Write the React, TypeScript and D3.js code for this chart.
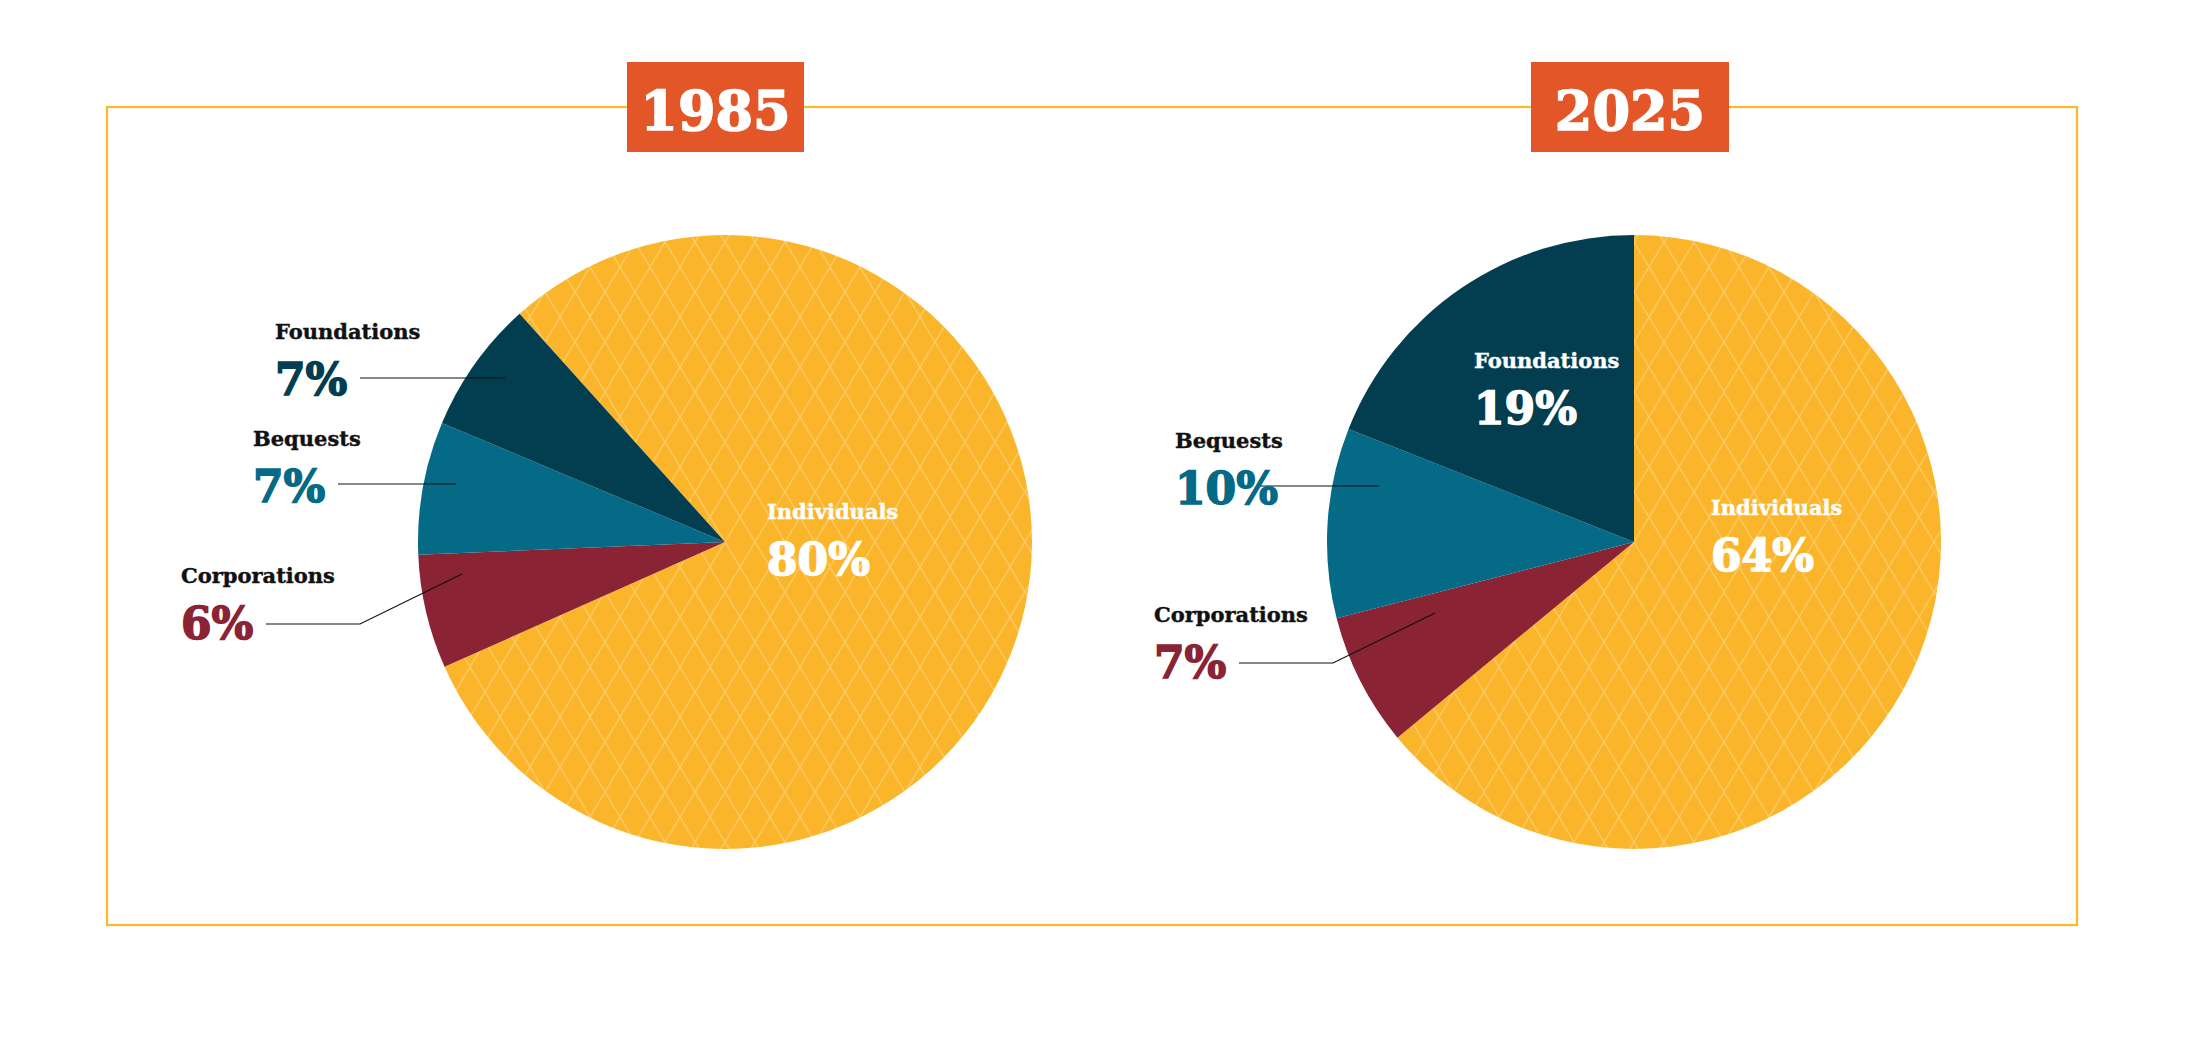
import React from 'react';
import * as d3 from 'd3';

// Share of giving by source, by year
const SOURCES = ['Individuals', 'Corporations', 'Bequests', 'Foundations'];
const SHARES_1985 = [80, 6, 7, 7];
const SHARES_2025 = [64, 7, 10, 19];
const YEARS = ['1985', '2025'];

const COLORS: Record<string, string> = {
  Individuals: '#FBB52B',
  Corporations: '#8A2333',
  Bequests: '#046A85',
  Foundations: '#023E50',
};

const W = 2192;
const H = 1039;
const R = 307;
const SERIF = '"DejaVu Serif", "Liberation Serif", serif';

type Label = {
  name: string;
  x: number;
  y: number;
  inside: boolean;
  line?: [number, number][];
};

const PIES = [
  {
    year: YEARS[0],
    values: SHARES_1985,
    cx: 725,
    cy: 542,
    start: -42,
    labels: [
      { name: 'Individuals', x: 767, y: 519, inside: true },
      { name: 'Foundations', x: 275, y: 339, inside: false, line: [[360, 378], [505, 378]] },
      { name: 'Bequests', x: 253, y: 446, inside: false, line: [[338, 484], [456, 484]] },
      { name: 'Corporations', x: 181, y: 583, inside: false, line: [[266, 624], [360, 624], [462, 574]] },
    ] as Label[],
  },
  {
    year: YEARS[1],
    values: SHARES_2025,
    cx: 1634,
    cy: 542,
    start: 0,
    labels: [
      { name: 'Individuals', x: 1711, y: 515, inside: true },
      { name: 'Foundations', x: 1474, y: 368, inside: true },
      { name: 'Bequests', x: 1175, y: 448, inside: false, line: [[1260, 486], [1379, 486]] },
      { name: 'Corporations', x: 1154, y: 622, inside: false, line: [[1239, 663], [1333, 663], [1435, 613]] },
    ] as Label[],
  },
];

const TITLE_BOXES = [
  { x: 627, w: 177 },
  { x: 1531, w: 198 },
];

export default function App() {
  const pie = d3
    .pie<number>()
    .sort(null)
    .value(d => d);
  const arc = d3.arc<d3.PieArcDatum<number>>().innerRadius(0).outerRadius(R);
  const lineGen = d3.line();

  return (
    <svg
      width={W}
      height={H}
      style={{ position: 'absolute', left: 0, top: 0, background: '#fff' }}
    >
      <defs>
        <pattern id="lattice" width={30} height={50} patternUnits="userSpaceOnUse">
          <rect width={30} height={50} fill={COLORS.Individuals} />
          <path
            d="M0,0 L30,50 M30,0 L0,50"
            stroke="rgba(255,255,255,0.28)"
            strokeWidth={1.4}
            fill="none"
          />
        </pattern>
      </defs>

      {/* frame */}
      <rect x={107} y={107} width={1970} height={818} fill="none" stroke="#FDB827" strokeWidth={2.2} />

      {PIES.map((p, pi) => {
        const a0 = (p.start * Math.PI) / 180;
        const arcs = pie.startAngle(a0).endAngle(a0 + 2 * Math.PI)(p.values);
        const box = TITLE_BOXES[pi];
        return (
          <g key={p.year}>
            <rect x={box.x} y={62} width={box.w} height={90} fill="#E35627" />
            <text
              x={box.x + box.w / 2}
              y={130}
              textAnchor="middle"
              fill="#fff"
              stroke="#fff"
              strokeWidth={1.6}
              fontFamily={SERIF}
              fontWeight={700}
              fontSize={54}
            >
              {p.year}
            </text>
            <g transform={`translate(${p.cx},${p.cy})`}>
              {arcs.map((a, i) => (
                <path
                  key={SOURCES[i]}
                  d={arc(a) || ''}
                  fill={SOURCES[i] === 'Individuals' ? 'url(#lattice)' : COLORS[SOURCES[i]]}
                />
              ))}
            </g>
            {p.labels.map(l => {
              const idx = SOURCES.indexOf(l.name);
              const v = p.values[idx];
              const pctColor = l.inside ? '#fff' : COLORS[l.name];
              return (
                <g key={l.name}>
                  {l.line && (
                    <path d={lineGen(l.line) || ''} stroke="#111" strokeWidth={1.2} fill="none" />
                  )}
                  <text
                    x={l.x}
                    y={l.y}
                    fill={l.inside ? '#fff' : '#111'}
                    stroke={l.inside ? '#fff' : '#111'}
                    strokeWidth={0.4}
                    fontFamily={SERIF}
                    fontWeight={700}
                    fontSize={21}
                  >
                    {l.name}
                  </text>
                  <text
                    x={l.x}
                    y={l.y + 56}
                    fill={pctColor}
                    stroke={pctColor}
                    strokeWidth={1.5}
                    fontFamily={SERIF}
                    fontWeight={700}
                    fontSize={44}
                  >
                    {`${v}%`}
                  </text>
                </g>
              );
            })}
          </g>
        );
      })}
    </svg>
  );
}
